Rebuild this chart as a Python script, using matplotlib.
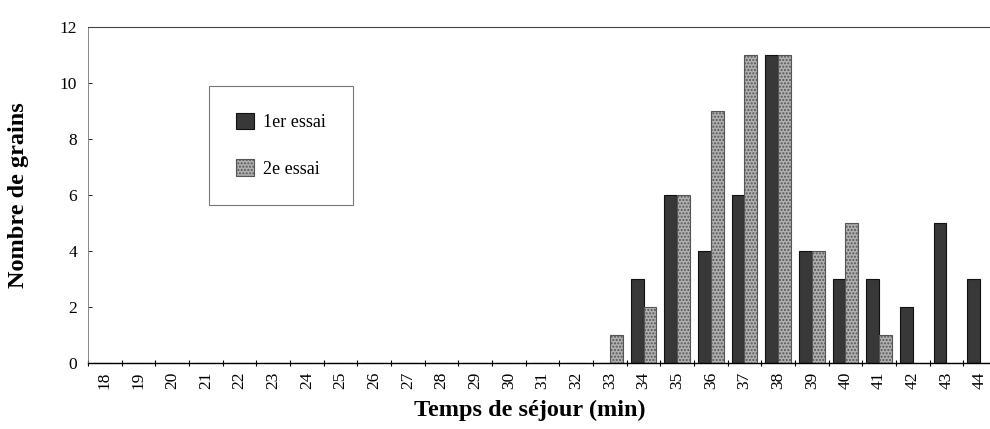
import matplotlib
matplotlib.use('Agg')
import matplotlib.pyplot as plt
import matplotlib.transforms as mtransforms
import numpy as np

plt.rcParams['font.family'] = ['Liberation Serif', 'DejaVu Serif']

temps = list(range(18, 45))
essai1 = [0, 0, 0, 0, 0, 0, 0, 0, 0, 0, 0, 0, 0, 0, 0, 0, 3, 6, 4, 6, 11, 4, 3, 3, 2, 5, 3]
essai2 = [0, 0, 0, 0, 0, 0, 0, 0, 0, 0, 0, 0, 0, 0, 0, 1, 2, 6, 9, 11, 11, 4, 5, 1, 0, 0, 0]

fig = plt.figure(figsize=(9.9, 4.29), dpi=100)
ax = fig.add_axes([0.089, 0.154, 0.918, 0.783])

x = np.arange(len(temps))
w = 0.38
ax.bar(x - w / 2, essai1, w, color='#383838', edgecolor='#111111', linewidth=0.8, label='1er essai')
ax.bar(x + w / 2, essai2, w, color='#b0b0b0', edgecolor='#555555', linewidth=0.8,
       hatch='.....', label='2e essai')

ax.set_xlim(-0.5, len(temps) - 0.5)
ax.set_ylim(0, 12)
ax.set_yticks(range(0, 13, 2))
ax.set_xticks(x)
ax.set_xticklabels([str(t) for t in temps], rotation=90, fontsize=12.5)
# labels sit a bit left of the bar centres in the original
shift = mtransforms.ScaledTranslation(-6 / 100, 0, fig.dpi_scale_trans)
for lab in ax.get_xticklabels():
    lab.set_transform(lab.get_transform() + shift)
ax.set_xticks(np.arange(-0.5, len(temps), 1), minor=True)
ax.tick_params(axis='x', which='major', length=0, pad=6)
ax.tick_params(axis='x', which='minor', length=4, direction='inout', width=0.8)
ax.tick_params(axis='y', labelsize=12.5, length=3, direction='in', width=0.6, pad=8)

ax.spines['right'].set_visible(False)
ax.spines['top'].set_linewidth(0.8)
ax.spines['top'].set_color('#444444')
ax.spines['left'].set_linewidth(0.6)
ax.spines['left'].set_color('#777777')
ax.spines['left'].set_linestyle((0, (2, 1)))
ax.spines['bottom'].set_linewidth(1.0)

ax.set_ylabel('Nombre de grains', fontsize=17.5, fontweight='bold')
ax.yaxis.set_label_coords(-0.077, 0.5)
ax.yaxis.label.set_va('center')
ax.set_xlabel('Temps de séjour (min)', fontsize=17.5, fontweight='bold')
ax.xaxis.set_label_coords(0.486, -0.14)
ax.xaxis.label.set_va('center')

leg = ax.legend(loc='upper left', bbox_to_anchor=(0.133, 0.824), fontsize=13, frameon=True,
                fancybox=False, edgecolor='#555555', labelspacing=1.55, handlelength=1.0,
                handleheight=1.0, borderpad=1.5, handletextpad=0.5, borderaxespad=0)
leg.get_frame().set_linewidth(0.8)

fig.savefig('out.png', dpi=100)
